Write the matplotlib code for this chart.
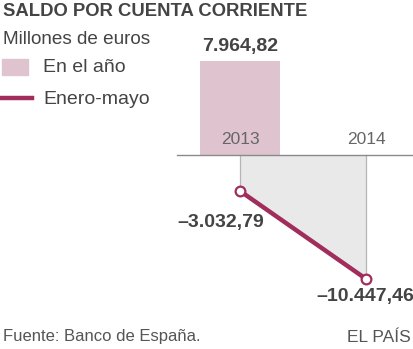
import matplotlib
matplotlib.use("Agg")
import matplotlib.pyplot as plt

# data
years = ["2013", "2014"]
en_el_ano = [7964.82]          # only 2013 has a full-year value
enero_mayo = [-3032.79, -10447.46]
bar_labels = ["7.964,82"]
line_labels = ["\u20133.032,79", "\u201310.447,46"]

PINK = "#dfc4d0"
MAROON = "#a02d5c"
GRAY_FILL = "#e9e9ea"
TEXT = "#444444"

plt.rcParams["font.family"] = ["Liberation Sans", "DejaVu Sans"]

W, H = 414, 349
fig = plt.figure(figsize=(W / 100, H / 100), dpi=100)
ax = fig.add_axes([0, 0, 1, 1])
ax.set_xlim(-240 / 126, 174 / 126)
units_px = 84.3
ax.set_ylim(-(H - 155) * units_px, 155 * units_px)
ax.axis("off")

x = list(range(len(years)))

# gray area under the enero-mayo line
ax.fill_between(x, enero_mayo, 0, color=GRAY_FILL, linewidth=0, zorder=1)
for xi, v in zip(x, enero_mayo):
    ax.plot([xi, xi], [0, v], color="#b5b5b5", linewidth=0.9, zorder=2)

# bars
ax.bar(x[:len(en_el_ano)], en_el_ano, width=0.635, color=PINK, zorder=2)

# zero line
ax.plot([-0.5, ax.get_xlim()[1]], [0, 0], color="#8a8a8a", linewidth=1.0, zorder=3)

# line
ax.plot(x, enero_mayo, color=MAROON, linewidth=3.2, zorder=4,
        marker="o", markersize=7, markerfacecolor="white",
        markeredgecolor=MAROON, markeredgewidth=1.6)

# year labels
for xi, y in zip(x, years):
    ax.text(xi, 15 * units_px, y, ha="center", va="center", fontsize=12.5, color="#666666", zorder=5)

# value labels
ax.text(0, en_el_ano[0] + 1150, bar_labels[0], ha="center", va="center",
        fontsize=14, fontweight="bold", color=TEXT)
ax.text(-0.5, -(222 - 155) * units_px, line_labels[0], ha="left", va="center",
        fontsize=14, fontweight="bold", color=TEXT)
ax.text(1.38, -(297 - 155) * units_px, line_labels[1], ha="right", va="center",
        fontsize=14, fontweight="bold", color=TEXT)


def ftext(px, py, s, **kw):
    fig.text(px / W, 1 - py / H, s, **kw)


ftext(3, 11, "SALDO POR CUENTA CORRIENTE", ha="left", va="center",
      fontsize=13.3, fontweight="bold", color=TEXT)
ftext(3, 40, "Millones de euros", ha="left", va="center", fontsize=13.6, color=TEXT)

# legend
fig.patches.append(plt.Rectangle((2 / W, 1 - 75 / H), 26 / W, 16 / H,
                                 transform=fig.transFigure, color=PINK))
fig.lines.append(plt.Line2D([0, 32 / W], [1 - 98 / H, 1 - 98 / H],
                            transform=fig.transFigure, color=MAROON, linewidth=3.2))
ftext(43, 67, "En el año", ha="left", va="center", fontsize=14, color=TEXT)
ftext(43, 99, "Enero-mayo", ha="left", va="center", fontsize=14, color=TEXT)

ftext(3, 337, "Fuente: Banco de España.", ha="left", va="center", fontsize=12, color="#555555")
ftext(411, 337, "EL PAÍS", ha="right", va="center", fontsize=12.5, color="#555555")

fig.savefig("out.png", dpi=100)
